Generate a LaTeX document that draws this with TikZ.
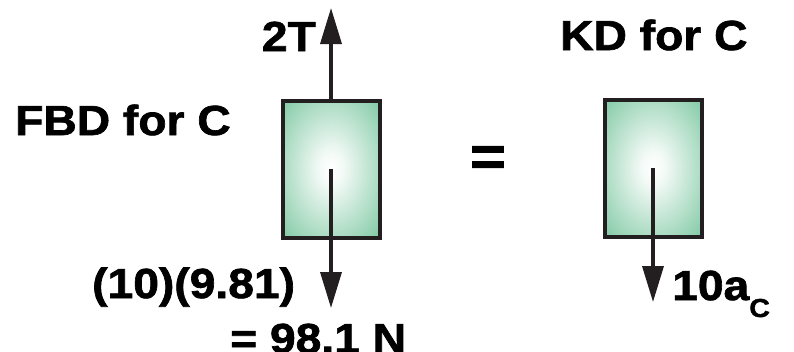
\documentclass[tikz,border=0pt]{standalone}
\usepackage{fontspec}
\usepackage{tikz}
\usetikzlibrary{arrows.meta}
\newfontfamily\lblfont[FakeStretch=1.1,FakeBold=1.6]{Liberation Sans Bold}
\definecolor{boxgreen}{RGB}{112,194,152}
\definecolor{inkdark}{RGB}{35,31,32}
\pgfdeclareradialshading{boxglow}{\pgfpoint{0bp}{0bp}}{%
    color(0bp)=(white); color(6bp)=(white!92!boxgreen);
    color(40bp)=(boxgreen); color(50bp)=(boxgreen)}

\begin{document}
\begin{tikzpicture}[
    x=1pt, y=-1pt,
    lbl/.style={
        inner sep=0pt,
        anchor=base west,
        font=\lblfont\fontsize{42}{46}\selectfont
    },
    massbox/.style={
        draw=inkdark,
        line width=4pt,
        shading=boxglow,
        minimum width=97pt,
        minimum height=137pt,
        inner sep=0pt
    },
    force/.style={
        draw=inkdark,
        line width=3.5pt,
        -{Triangle[length=36pt,width=21pt]}
    }
]
\useasboundingbox (0,0) rectangle (794,351);

% Nodes
\node[massbox] (boxL) at (331,169) {};
\node[massbox] (boxR) at (653,168) {};

\coordinate (tipT) at (331,8);
\coordinate (tipW) at (331,308);
\coordinate (tipA) at (653,302);

% Forces on C
\draw[force] (boxL.north) -- (tipT);
\draw[force] (boxL.center) -- (tipW);
\draw[force] (boxR.center) -- (tipA);

% Labels
\node[lbl] (fbd) at (15,135) {FBD for C};
\node[lbl] (kd) at (560,50) {KD for C};
\node[lbl, anchor=base east] (tension) at (316,51) {2T};
\node[lbl] (weight) at (92,298) {(10)(9.81)};
\node[lbl] (weightval) at (230,353) {= 98.1 N};
\node[lbl] (inertia) at (672,300)
    {10a\raisebox{-17pt}{\fontsize{26}{28}\selectfont C}};
\node[lbl, anchor=center, font=\lblfont\fontsize{56}{60}\selectfont]
    (equals) at (488,161) {=};

\end{tikzpicture}
\end{document}
